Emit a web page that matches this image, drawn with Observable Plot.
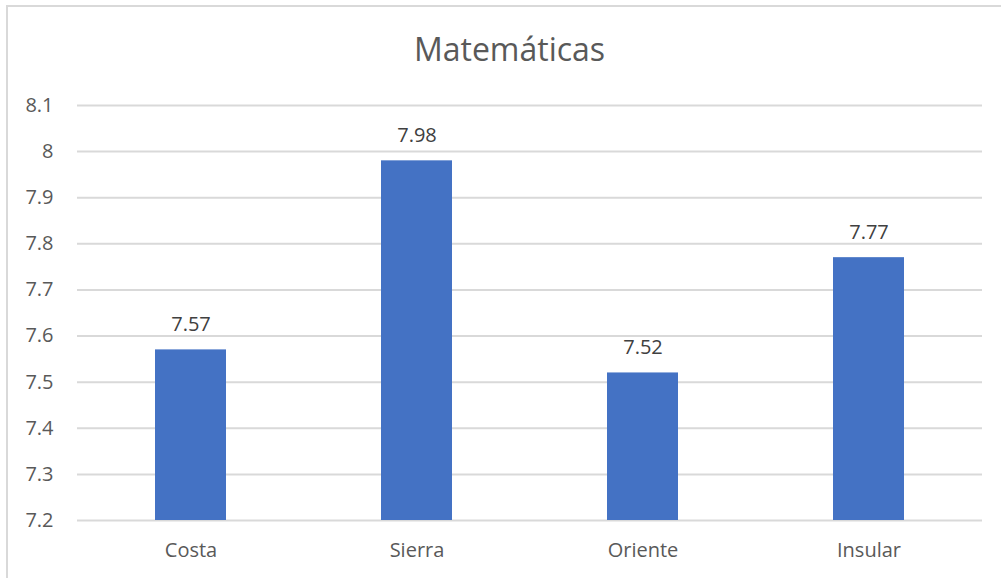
<!DOCTYPE html>
<html>
<head>
<meta charset="utf-8">
<script src="https://cdn.jsdelivr.net/npm/d3@7"></script>
<script src="https://cdn.jsdelivr.net/npm/@observablehq/plot@0.6"></script>
<style>
  html, body { margin: 0; padding: 0; background: #fff; }
  #wrap { position: relative; width: 1001px; height: 578px; overflow: hidden; font-family: "Open Sans", Lato, sans-serif; }
  #frame { position: absolute; left: 6px; top: 5px; width: 1100px; height: 700px; border: 2px solid #d9d9d9; box-sizing: border-box; }
  #title { position: absolute; left: 0; width: 1019px; top: 29px; text-align: center; font-size: 32px; color: #595959; line-height: 40px; }
  #chart { position: absolute; left: 0; top: 0; }
</style>
</head>
<body>
<div id="wrap">
  <div id="frame"></div>
  <div id="title">Matemáticas</div>
  <div id="chart"></div>
</div>
<script>
const categories = ["Costa", "Sierra", "Oriente", "Insular"];
const values = [7.57, 7.98, 7.52, 7.77];
const yTicks = [7.2, 7.3, 7.4, 7.5, 7.6, 7.7, 7.8, 7.9, 8.0, 8.1];

const data = categories.map((c, i) => ({category: c, value: values[i]}));
const fmt = d => String(+d.toFixed(2));

const chart = Plot.plot({
  width: 1001,
  height: 578,
  marginLeft: 77,
  marginRight: 19,
  marginTop: 105,
  marginBottom: 58,
  style: {fontFamily: "'Open Sans', Lato, sans-serif", background: "transparent", overflow: "visible"},
  x: {domain: categories, paddingInner: 0.686, paddingOuter: 0.343},
  y: {domain: [7.2, 8.1]},
  marks: [
    Plot.ruleY(yTicks, {stroke: "#d9d9d9", strokeWidth: 2}),
    Plot.barY(data, {x: "category", y1: 7.2, y2: "value", fill: "#4472c4"}),
    Plot.text(data, {x: "category", y: "value", text: d => fmt(d.value), lineAnchor: "bottom", dy: -19, fontSize: 20, fill: "#404040"}),
    Plot.axisY(yTicks, {tickSize: 0, tickPadding: 24, fontSize: 20, color: "#595959", tickFormat: d => String(+d.toFixed(1)), label: null}),
    Plot.axisX({tickSize: 0, tickPadding: 22, fontSize: 20, color: "#595959", label: null})
  ]
});
document.getElementById("chart").appendChild(chart);
</script>
</body>
</html>
